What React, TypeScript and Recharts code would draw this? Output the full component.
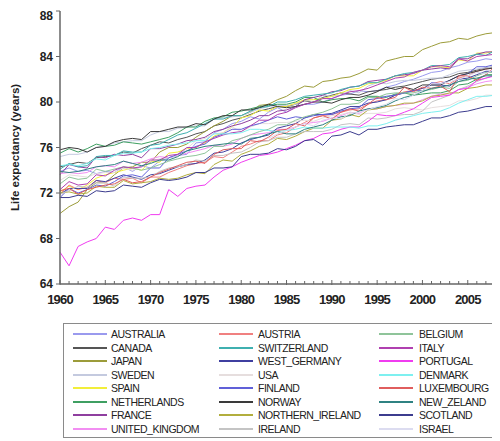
import { Legend, Line, LineChart, XAxis, YAxis } from "recharts";

// female life expectancy at birth, one value per year 1960..2009
const FIRST_YEAR = 1960;
const LAST_YEAR = 2009;
const YEARS = Array.from({ length: LAST_YEAR - FIRST_YEAR + 1 }, (_, i) => FIRST_YEAR + i);
const X_LABELS = [1960, 1965, 1970, 1975, 1980, 1985, 1990, 1995, 2000, 2005];
const Y_TICKS = [64, 68, 72, 76, 80, 84, 88];

const AUSTRALIA = [73.9, 74.2, 73.9, 74.0, 73.7, 73.9, 73.8, 74.3, 73.9, 74.4, 74.2, 74.8, 75.1, 75.3, 75.4, 76.4, 76.5, 77.3, 77.6, 78.1, 78.3, 78.7, 78.5, 79.1, 79.5, 79.1, 79.6, 79.8, 79.8, 80.0, 80.3, 80.6, 80.7, 81.0, 80.9, 81.0, 81.3, 81.5, 81.8, 82.0, 82.3, 82.6, 82.7, 83.0, 83.2, 83.5, 83.6, 83.8, 83.7, 84.0];
const CANADA = [74.3, 74.5, 74.7, 74.6, 75.1, 75.2, 75.3, 75.6, 75.5, 75.9, 76.2, 76.5, 76.4, 76.7, 76.9, 77.2, 77.4, 77.9, 78.1, 78.4, 78.6, 78.9, 79.2, 79.4, 79.6, 79.6, 79.8, 80.1, 80.0, 80.4, 80.6, 80.8, 80.7, 80.6, 80.9, 81.0, 81.1, 81.3, 81.4, 81.6, 81.8, 82.0, 82.1, 82.2, 82.5, 82.6, 82.8, 83.0, 83.1, 83.3];
const JAPAN = [70.2, 70.8, 71.2, 72.3, 72.9, 72.9, 73.6, 74.2, 74.3, 74.7, 74.7, 75.6, 76.0, 76.0, 76.3, 76.9, 77.4, 77.9, 78.3, 78.8, 78.8, 79.1, 79.7, 79.8, 80.2, 80.5, 81.0, 81.4, 81.3, 81.8, 81.9, 82.1, 82.2, 82.5, 82.9, 82.8, 83.6, 83.8, 84.0, 84.0, 84.6, 84.9, 85.2, 85.3, 85.6, 85.5, 85.8, 86.0, 86.1, 86.4];
const SWEDEN = [75.2, 75.4, 75.4, 75.6, 76.0, 76.1, 76.4, 76.5, 76.6, 76.6, 77.1, 77.4, 77.4, 77.7, 77.8, 77.9, 77.9, 78.5, 78.6, 78.7, 78.8, 79.1, 79.4, 79.6, 79.7, 79.7, 79.8, 80.2, 80.0, 80.6, 80.5, 80.6, 81.0, 80.8, 81.4, 81.7, 81.6, 81.8, 81.9, 81.9, 82.0, 82.1, 82.1, 82.4, 82.7, 82.8, 82.9, 83.0, 83.1, 83.4];
const SPAIN = [72.1, 72.6, 72.3, 72.7, 73.3, 73.6, 73.8, 74.0, 74.2, 74.0, 74.8, 74.7, 75.5, 75.6, 75.9, 76.0, 76.4, 77.0, 77.3, 77.8, 78.6, 78.8, 79.3, 79.2, 79.6, 79.6, 79.9, 80.2, 80.2, 80.3, 80.5, 80.8, 81.1, 81.2, 81.6, 81.7, 81.9, 82.3, 82.3, 82.3, 82.8, 83.1, 83.1, 83.0, 83.7, 83.6, 84.3, 84.3, 84.5, 84.8];
const NETHERLANDS = [75.5, 75.9, 75.6, 75.9, 76.3, 76.1, 76.2, 76.5, 76.4, 76.3, 76.5, 76.7, 76.9, 77.3, 77.8, 77.8, 78.3, 78.6, 78.7, 79.1, 79.2, 79.4, 79.6, 79.7, 79.8, 79.8, 80.0, 80.4, 80.4, 80.0, 80.2, 80.3, 80.3, 80.1, 80.5, 80.5, 80.4, 80.7, 80.8, 80.6, 80.7, 80.8, 80.8, 81.0, 81.5, 81.6, 82.0, 82.4, 82.4, 82.8];
const FRANCE = [73.6, 74.5, 74.3, 74.2, 75.2, 75.1, 75.4, 75.3, 75.4, 75.1, 75.9, 75.9, 76.1, 76.3, 76.6, 76.7, 76.9, 77.4, 77.6, 77.9, 78.1, 78.4, 78.8, 78.8, 79.2, 79.3, 79.6, 80.2, 80.4, 80.6, 80.9, 81.0, 81.3, 81.4, 81.8, 81.9, 82.0, 82.3, 82.4, 82.5, 82.8, 82.9, 83.0, 82.9, 83.8, 83.8, 84.2, 84.4, 84.4, 84.5];
const UNITED_KINGDOM = [73.7, 73.8, 73.7, 73.8, 74.3, 74.4, 74.3, 74.8, 74.6, 74.7, 75.0, 75.2, 75.1, 75.3, 75.5, 75.7, 75.9, 76.2, 76.1, 76.3, 76.8, 77.1, 77.2, 77.3, 77.6, 77.6, 77.8, 78.1, 78.2, 78.3, 78.6, 78.8, 79.1, 79.0, 79.4, 79.4, 79.6, 79.7, 79.8, 79.9, 80.2, 80.5, 80.7, 80.7, 81.1, 81.3, 81.6, 81.8, 81.9, 82.3];
const AUSTRIA = [71.9, 72.7, 72.3, 72.5, 73.1, 72.9, 73.3, 73.2, 73.3, 72.9, 73.4, 73.4, 73.8, 74.1, 74.4, 74.6, 74.7, 75.2, 75.1, 75.6, 76.1, 76.3, 76.6, 76.6, 77.1, 77.3, 77.8, 78.2, 78.6, 78.8, 78.9, 79.1, 79.3, 79.4, 79.8, 80.1, 80.2, 80.6, 80.9, 81.0, 81.2, 81.6, 81.8, 81.6, 82.1, 82.3, 82.7, 82.9, 83.0, 83.2];
const SWITZERLAND = [74.1, 74.6, 74.3, 74.4, 75.2, 75.3, 75.3, 75.7, 75.6, 75.6, 76.2, 76.3, 76.7, 77.1, 77.3, 77.7, 78.1, 78.5, 78.5, 78.8, 78.8, 79.2, 79.5, 79.6, 80.0, 80.0, 80.2, 80.5, 80.6, 80.7, 80.8, 81.1, 81.3, 81.4, 81.7, 81.7, 82.0, 82.3, 82.5, 82.6, 82.8, 83.2, 83.2, 83.3, 83.9, 84.0, 84.2, 84.1, 84.5, 84.5];
const WEST_GERMANY = [71.9, 72.4, 72.4, 72.4, 73.1, 73.0, 73.3, 73.6, 73.4, 73.2, 73.6, 73.7, 74.0, 74.3, 74.5, 74.6, 74.9, 75.5, 75.6, 75.9, 76.4, 76.7, 76.9, 77.1, 77.7, 77.9, 78.1, 78.6, 78.9, 78.9, 79.0, 79.3, 79.6, 79.6, 79.9, 80.0, 80.2, 80.6, 80.8, 81.0, 81.2, 81.5, 81.5, 81.4, 82.0, 82.1, 82.4, 82.7, 82.7, 82.8];
const USA = [73.1, 73.6, 73.5, 73.4, 73.7, 73.8, 73.8, 74.2, 74.0, 74.3, 74.8, 75.0, 75.1, 75.3, 75.9, 76.6, 76.8, 77.2, 77.3, 77.8, 77.4, 77.8, 78.1, 78.1, 78.2, 78.2, 78.3, 78.4, 78.3, 78.6, 78.8, 78.9, 79.1, 78.9, 79.0, 79.0, 79.1, 79.4, 79.5, 79.4, 79.3, 79.5, 79.6, 79.7, 80.1, 80.1, 80.3, 80.6, 80.6, 80.9];
const FINLAND = [71.6, 72.4, 72.0, 72.3, 72.7, 72.6, 73.0, 73.5, 73.6, 73.4, 74.2, 74.2, 75.1, 75.4, 75.7, 76.1, 76.3, 76.9, 77.2, 77.6, 77.6, 77.9, 78.1, 78.4, 78.7, 78.5, 78.7, 78.6, 78.8, 78.9, 78.9, 79.2, 79.4, 79.5, 80.2, 80.3, 80.5, 80.6, 80.8, 81.0, 81.0, 81.7, 81.6, 81.9, 82.3, 82.5, 83.1, 83.1, 83.3, 83.5];
const NORWAY = [75.8, 76.0, 75.9, 75.6, 76.0, 76.1, 76.5, 76.7, 76.8, 76.7, 77.4, 77.4, 77.6, 77.8, 77.8, 78.1, 78.0, 78.5, 78.8, 78.8, 79.3, 79.3, 79.5, 79.8, 79.6, 79.5, 79.6, 79.8, 80.0, 80.0, 79.9, 80.2, 80.4, 80.4, 80.6, 80.9, 81.3, 81.1, 81.3, 81.1, 81.5, 81.5, 81.5, 81.9, 82.3, 82.5, 82.7, 82.9, 83.0, 83.2];
const NORTHERN_IRELAND = [72.0, 72.1, 71.9, 72.0, 72.6, 72.5, 72.5, 73.1, 72.8, 72.9, 73.0, 73.3, 73.2, 73.3, 73.6, 73.8, 73.7, 74.5, 74.9, 74.8, 75.4, 75.7, 76.1, 76.3, 76.8, 76.7, 77.0, 77.4, 77.7, 77.7, 78.4, 78.5, 78.9, 78.7, 79.3, 79.4, 79.6, 79.7, 79.9, 79.9, 80.1, 80.5, 80.6, 80.8, 80.8, 81.2, 81.3, 81.5, 81.5, 81.6];
const IRELAND = [71.9, 72.2, 72.6, 72.5, 72.9, 72.9, 72.6, 73.4, 73.3, 73.3, 73.4, 73.9, 74.2, 74.3, 74.5, 74.9, 74.8, 75.3, 75.3, 75.5, 75.6, 76.0, 76.5, 76.6, 76.9, 76.9, 77.2, 77.4, 77.4, 77.4, 77.6, 78.0, 78.1, 78.0, 78.6, 78.5, 78.6, 78.8, 78.9, 78.9, 79.2, 80.0, 80.3, 80.6, 81.1, 81.4, 81.8, 82.1, 82.4, 82.5];
const BELGIUM = [72.8, 73.4, 73.2, 73.3, 74.1, 73.9, 74.1, 74.3, 74.2, 74.0, 74.2, 74.5, 74.8, 75.0, 75.2, 75.3, 75.5, 76.1, 76.1, 76.6, 76.8, 77.1, 77.4, 77.6, 78.0, 78.0, 78.4, 78.7, 78.9, 79.1, 79.4, 79.8, 79.8, 79.9, 80.4, 80.4, 80.7, 80.8, 80.8, 80.8, 81.0, 81.1, 81.3, 81.2, 81.8, 81.9, 82.3, 82.6, 82.6, 82.8];
const ITALY = [72.3, 73.0, 72.7, 72.8, 73.6, 73.5, 74.0, 74.3, 74.2, 74.3, 74.9, 74.9, 75.3, 75.4, 76.0, 76.0, 76.5, 76.8, 77.1, 77.3, 77.4, 77.9, 78.4, 78.4, 78.9, 79.1, 79.5, 79.8, 80.0, 80.3, 80.3, 80.6, 80.9, 81.0, 81.2, 81.5, 81.8, 82.1, 82.2, 82.6, 82.8, 83.1, 83.2, 83.1, 83.8, 83.6, 84.0, 84.1, 84.2, 84.3];
const PORTUGAL = [66.8, 65.6, 67.3, 67.7, 68.0, 69.0, 68.8, 69.6, 69.8, 69.6, 70.1, 70.1, 72.3, 71.7, 72.4, 72.6, 72.7, 73.4, 74.0, 74.3, 74.7, 75.0, 75.3, 75.4, 75.6, 75.9, 76.2, 76.6, 76.8, 77.2, 77.3, 77.6, 77.8, 77.8, 78.3, 78.9, 78.8, 78.8, 79.1, 79.4, 79.9, 80.4, 80.5, 80.6, 81.1, 81.2, 81.9, 82.1, 82.3, 82.4];
const DENMARK = [74.4, 74.5, 74.4, 74.6, 75.0, 74.9, 75.3, 75.5, 75.5, 75.6, 75.9, 76.0, 76.2, 76.3, 76.4, 76.6, 76.6, 77.2, 77.2, 77.2, 77.3, 77.6, 77.6, 77.5, 77.4, 77.5, 77.6, 77.8, 77.7, 77.7, 77.8, 77.8, 77.8, 77.7, 77.9, 77.9, 78.1, 78.4, 78.6, 78.8, 79.0, 79.1, 79.2, 79.5, 79.9, 80.2, 80.5, 80.5, 80.6, 81.1];
const LUXEMBOURG = [72.2, 72.4, 71.9, 72.3, 72.5, 72.7, 72.8, 73.2, 72.9, 73.0, 73.4, 73.8, 74.1, 74.4, 74.7, 74.8, 74.6, 75.4, 75.8, 75.9, 75.9, 76.6, 76.5, 76.9, 77.5, 77.6, 78.1, 77.9, 78.6, 78.8, 78.5, 79.1, 79.4, 79.2, 79.8, 80.4, 80.2, 80.4, 81.3, 80.9, 81.3, 81.2, 81.4, 80.9, 82.3, 82.3, 81.9, 82.4, 83.1, 83.3];
const NEW_ZELAND = [73.9, 73.8, 73.9, 74.1, 74.3, 74.4, 74.5, 74.8, 74.6, 74.4, 74.6, 74.9, 74.9, 75.2, 75.7, 75.9, 76.1, 76.2, 76.3, 76.4, 76.3, 76.8, 76.9, 77.2, 77.4, 77.2, 77.2, 77.6, 77.8, 78.0, 78.4, 78.7, 78.8, 79.2, 79.4, 79.5, 79.7, 80.1, 80.4, 80.6, 80.9, 81.2, 81.3, 81.5, 81.8, 82.0, 82.1, 82.3, 82.3, 82.7];
const SCOTLAND = [71.6, 71.6, 71.8, 71.7, 72.2, 72.1, 72.2, 72.7, 72.6, 72.5, 72.9, 73.2, 73.1, 73.2, 73.4, 73.8, 73.8, 74.2, 74.2, 74.3, 75.2, 75.4, 75.4, 75.5, 75.9, 75.8, 76.1, 76.6, 76.7, 76.2, 77.0, 77.1, 77.4, 77.1, 77.6, 77.6, 77.8, 77.9, 78.0, 78.0, 78.3, 78.6, 78.6, 78.8, 79.1, 79.2, 79.4, 79.6, 79.6, 80.0];
// israel series only starts in 1983
const ISRAEL_FROM = 1983;
const ISRAEL = [76.8, 77.2, 77.5, 77.8, 78.1, 77.9, 78.4, 78.6, 78.5, 79.0, 79.1, 79.3, 79.6, 79.8, 80.3, 80.2, 80.6, 81.0, 81.6, 81.6, 81.8, 82.0, 82.3, 82.6, 82.5, 82.9, 83.2];

// legend order (column by column)
const COUNTRIES = [
    "AUSTRALIA", "CANADA", "JAPAN", "SWEDEN", "SPAIN", "NETHERLANDS", "FRANCE", "UNITED_KINGDOM",
    "AUSTRIA", "SWITZERLAND", "WEST_GERMANY", "USA", "FINLAND", "NORWAY", "NORTHERN_IRELAND", "IRELAND",
    "BELGIUM", "ITALY", "PORTUGAL", "DENMARK", "LUXEMBOURG", "NEW_ZELAND", "SCOTLAND", "ISRAEL",
];
const VALUES: Record<string, number[]> = {
    AUSTRALIA, CANADA, JAPAN, SWEDEN, SPAIN, NETHERLANDS, FRANCE, UNITED_KINGDOM,
    AUSTRIA, SWITZERLAND, WEST_GERMANY, USA, FINLAND, NORWAY, NORTHERN_IRELAND, IRELAND,
    BELGIUM, ITALY, PORTUGAL, DENMARK, LUXEMBOURG, NEW_ZELAND, SCOTLAND,
};
const COLORS = [
    "#9a9aee", "#555555", "#9c9c3a", "#c4cadf", "#f2ee3a", "#3f9f62", "#8f3f9f", "#f28ef2",
    "#f08080", "#3fb0b0", "#3f3fa0", "#e6dede", "#6060d8", "#3a3a3a", "#b2ae3e", "#c4c4c4",
    "#8fc49a", "#b040b0", "#f03cf0", "#7ef0f0", "#e05e5e", "#2f8282", "#3c3c8e", "#dcdcf0",
];

const data = YEARS.map((year, i) => {
    const row: Record<string, number | null> = { year };
    COUNTRIES.forEach((c) => {
        if (c === "ISRAEL") row[c] = year >= ISRAEL_FROM ? ISRAEL[year - ISRAEL_FROM] : null;
        else row[c] = VALUES[c][i];
    });
    return row;
});

const FONT = "'Liberation Sans', Arial, sans-serif";

function XTick({ x, y, payload }: any) {
    const major = X_LABELS.includes(payload.value);
    return (
        <g>
            <line x1={x} x2={x} y1={y - (major ? 4 : 3)} y2={y + (major ? 1 : 0)} stroke="#666" />
            {major && (
                <text x={x} y={y + 20} textAnchor="middle" fontSize={13} fontWeight="bold" letterSpacing={-0.8} fill="#222" fontFamily={FONT}>
                    {payload.value}
                </text>
            )}
        </g>
    );
}

function YTitle({ viewBox }: any) {
    const cx = viewBox.x + 7;
    const cy = viewBox.y + viewBox.height / 2;
    return (
        <text x={cx} y={cy} transform={`rotate(-90 ${cx} ${cy})`} textAnchor="middle" dominantBaseline="central" fontSize={11.5} fontWeight="bold" fill="#222" fontFamily={FONT}>
            Life expectancy (years)
        </text>
    );
}

function LegendBox() {
    const lineX = [9, 155, 315];
    const textX = [47, 194, 355];
    return (
        <div style={{ position: "relative", width: 434, height: 115, boxSizing: "border-box", border: "1.5px solid #8a8a8a", background: "#fff", fontFamily: FONT, fontSize: 10.5, letterSpacing: -0.5, color: "#222" }}>
            {COUNTRIES.map((name, i) => {
                const col = Math.floor(i / 8);
                const row = i % 8;
                const cy = 10 + row * 13.57;
                return (
                    <div key={name}>
                        <div style={{ position: "absolute", left: lineX[col], top: cy - 1, width: 34, height: 2, background: COLORS[i] }} />
                        <div style={{ position: "absolute", left: textX[col], top: cy - 7, lineHeight: "14px", whiteSpace: "nowrap" }}>{name}</div>
                    </div>
                );
            })}
        </div>
    );
}

export default function App() {
    return (
        <div style={{ width: 492, height: 430, overflow: "hidden" }}>
            <LineChart width={520} height={430} data={data} margin={{ top: 3, right: 24, left: 0, bottom: 0 }}>
                <XAxis
                    dataKey="year"
                    type="number"
                    domain={[FIRST_YEAR, LAST_YEAR]}
                    ticks={YEARS}
                    interval={0}
                    height={39}
                    tickSize={0}
                    tickMargin={0}
                    tickLine={false}
                    tick={<XTick />}
                    axisLine={{ stroke: "#666", strokeWidth: 1.5 }}
                />
                <XAxis
                    xAxisId="top"
                    orientation="top"
                    dataKey="year"
                    type="number"
                    domain={[FIRST_YEAR, LAST_YEAR]}
                    height={0}
                    tick={false}
                    tickLine={false}
                    axisLine={{ stroke: "#aaa", strokeWidth: 2 }}
                />
                <YAxis
                    domain={[64, 88]}
                    ticks={Y_TICKS}
                    width={52}
                    tickSize={4}
                    tickMargin={3}
                    tickLine={{ stroke: "#666" }}
                    axisLine={{ stroke: "#666", strokeWidth: 1.5 }}
                    tick={{ fontSize: 12, fontWeight: "bold", fill: "#222", fontFamily: FONT }}
                    label={{ content: <YTitle /> }}
                />
                {COUNTRIES.map((c, i) => (
                    <Line key={c} dataKey={c} stroke={COLORS[i]} strokeWidth={1} dot={false} isAnimationActive={false} connectNulls={false} />
                ))}
                <Legend verticalAlign="bottom" content={() => <LegendBox />} wrapperStyle={{ left: 55, width: 434, bottom: 0 }} />
            </LineChart>
        </div>
    );
}
